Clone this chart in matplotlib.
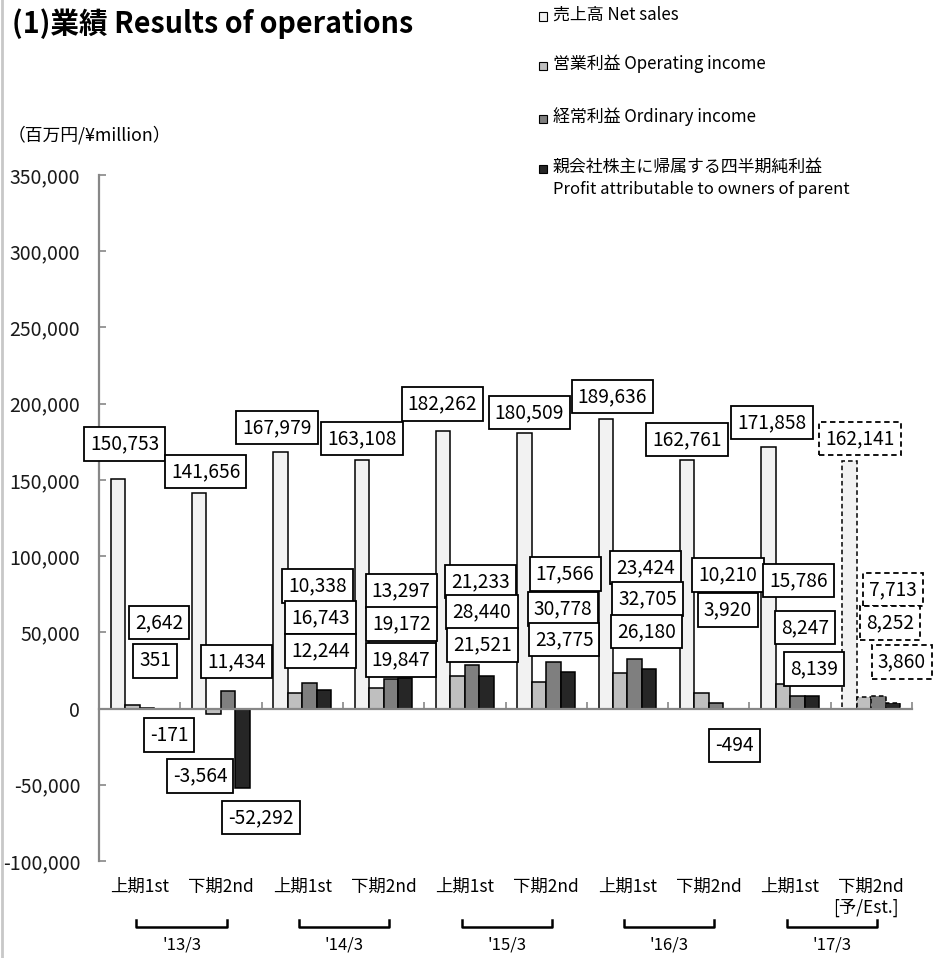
import matplotlib
matplotlib.use('Agg')
import matplotlib.pyplot as plt
from matplotlib.patches import Rectangle
from matplotlib.lines import Line2D
from matplotlib.ticker import FuncFormatter
from matplotlib.transforms import blended_transform_factory

plt.rcParams['font.family'] = ['Noto Sans CJK JP', 'DejaVu Sans']

# ---------------- data ----------------
periods = ['上期1st', '下期2nd'] * 5
years = ["'13/3", "'14/3", "'15/3", "'16/3", "'17/3"]
net_sales = [150753, 141656, 167979, 163108, 182262, 180509, 189636, 162761, 171858, 162141]
operating_income = [2642, -3564, 10338, 13297, 21233, 17566, 23424, 10210, 15786, 7713]
ordinary_income = [351, 11434, 16743, 19172, 28440, 30778, 32705, 3920, 8247, 8252]
profit_parent = [-171, -52292, 12244, 19847, 21521, 23775, 26180, -494, 8139, 3860]
series_names = ['売上高 Net sales', '営業利益 Operating income', '経常利益 Ordinary income',
                '親会社株主に帰属する四半期純利益']
series_sub = 'Profit attributable to owners of parent'
est_label = '[予/Est.]'

# ---------------- label placement (layout, data coords) ----------------
sales_lab = [(0.316, 173500), (1.312, 155500), (2.186, 184300), (3.231, 177100), (4.225, 199700),
             (5.295, 194200), (6.316, 204700), (7.229, 176500), (8.278, 187600), (9.360, 177100)]
op_lab = [(0.738, 56400), (1.242, -44300), (2.688, 80400), (3.715, 77100), (4.692, 83300),
          (5.732, 88200), (6.728, 92500), (7.737, 87600), (8.604, 84000), (9.766, 78100)]
ord_lab = [(0.689, 31200), (1.691, 30800), (2.724, 59700), (3.721, 55400), (4.711, 63300),
           (5.707, 65300), (6.747, 71800), (7.737, 64600), (8.684, 53100), (9.729, 56100)]
prof_lab = [(0.861, -17400), (1.993, -71500), (2.724, 37700), (3.715, 31800), (4.723, 41700),
            (5.720, 45300), (6.734, 50500), (7.817, -24300), (8.795, 25900), (9.877, 30500)]

W, H = 952, 958
fig = plt.figure(figsize=(W / 100, H / 100), dpi=100)
ax = fig.add_axes([99 / W, 1 - 861 / H, (912 - 99) / W, (861 - 175) / H])
ax.set_xlim(0, 10)
ax.set_ylim(-100000, 350000)

gray = '#878787'
colors = ['#f2f2f2', '#bfbfbf', '#7f7f7f', '#262626']
series = [net_sales, operating_income, ordinary_income, profit_parent]
n = len(net_sales)
bw = 0.178
for si, (vals, c) in enumerate(zip(series, colors)):
    for g in range(n):
        est = (g == n - 1)
        ax.bar(g + 0.5 + (si - 1.5) * bw, vals[g], width=bw, color=c,
               edgecolor='black', linewidth=1.1, linestyle=(0, (3, 2)) if est else '-',
               zorder=2)

# spines and ticks
for s in ['top', 'right']:
    ax.spines[s].set_visible(False)
ax.spines['bottom'].set_position(('data', 0))
ax.spines['bottom'].set_color(gray)
ax.spines['bottom'].set_linewidth(1.6)
ax.spines['bottom'].set_zorder(3)
ax.spines['left'].set_color(gray)
ax.spines['left'].set_linewidth(1.6)
ax.set_xticks(range(1, 11))
ax.tick_params(axis='x', direction='in', length=5, width=1.2, color=gray, labelbottom=False)
ax.set_yticks(range(-100000, 350001, 50000))
ax.yaxis.set_major_formatter(FuncFormatter(lambda v, p: f'{int(v):,}'))
ax.tick_params(axis='y', direction='in', length=5, width=1.2, color=gray, labelsize=14,
               pad=13.5, labelcolor='#1a1a1a')

# value labels
def put(vals, labs, fs=13.8):
    for g, (v, (x, y)) in enumerate(zip(vals, labs)):
        est = (g == n - 1)
        ax.text(x, y, f'{v:,}', ha='center', va='center', fontsize=fs, color='black',
                zorder=5, clip_on=False,
                bbox=dict(boxstyle='square,pad=0.32', fc='white', ec='black', lw=1.3,
                          ls=(0, (3, 2)) if est else '-'))

put(net_sales, sales_lab)
put(operating_income, op_lab)
put(ordinary_income, ord_lab)
put(profit_parent, prof_lab)

# category labels / brackets (x in data, y in figure pixels)
tr = blended_transform_factory(ax.transData, fig.transFigure)
fy = lambda py: 1 - py / H
for g, lab in enumerate(periods):
    ax.text(g + 0.5, fy(887), lab, transform=tr, ha='center', va='center', fontsize=12.5,
            clip_on=False)
ax.text(9.43, fy(908), est_label, transform=tr, ha='center', va='center', fontsize=12.5,
        clip_on=False)
for k, yl in enumerate(years):
    x0, x1 = 2 * k + 0.46, 2 * k + 1.57
    ax.add_line(Line2D([x0, x0, x1, x1], [fy(920), fy(927), fy(927), fy(920)],
                       transform=tr, color='black', lw=1.8, clip_on=False))
    ax.text((x0 + x1) / 2, fy(945), yl, transform=tr, ha='center', va='center',
            fontsize=12, clip_on=False)

# title, unit
fig.text(12 / W, fy(24), '(1)業績 Results of operations', fontsize=20.6, fontweight='bold',
         va='center', ha='left')
fig.text(8 / W, fy(135), '（百万円/¥million）', fontsize=12.8, va='center', ha='left')

# left border line
fig.add_artist(Line2D([1.5 / W, 1.5 / W], [0, 1], transform=fig.transFigure,
                      color='#c8c8c8', lw=2))

# legend (manual)
leg_y = [14.5, 64, 117, 167]
for i, (name, c) in enumerate(zip(series_names, colors)):
    y = leg_y[i]
    fig.add_artist(Rectangle((539 / W, fy(y + 6)), 8 / W, 8 / H, transform=fig.transFigure,
                             fc=c, ec='black', lw=0.8))
    fig.text(553 / W, fy(y), name, fontsize=12.2, va='center', ha='left')
fig.text(553 / W, fy(190), series_sub, fontsize=12, va='center', ha='left')

fig.savefig('out.png', dpi=100, facecolor='white')
